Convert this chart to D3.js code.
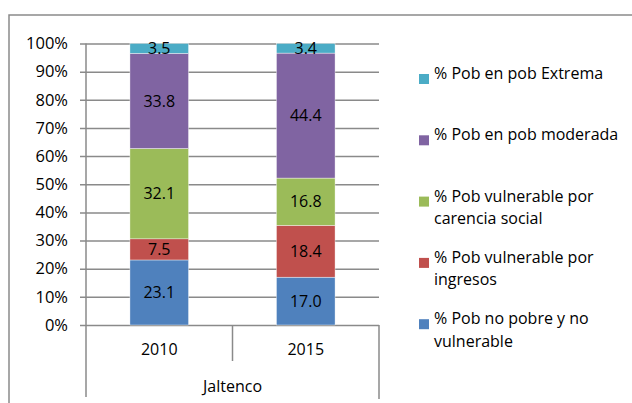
<!DOCTYPE html>
<html>
<head>
<meta charset="utf-8">
<script src="https://cdn.jsdelivr.net/npm/d3@7"></script>
<style>
  body { margin: 0; background: #fff; }
  svg { display: block; font-family: "Open Sans", sans-serif; }
</style>
</head>
<body>
<svg id="chart" width="632" height="403"></svg>
<script>
// categories
const years = ['2010', '2015'];
const groupName = 'Jaltenco';

// series, bottom to top of the stack
const seriesNames = [
  '% Pob no pobre y no vulnerable',
  '% Pob vulnerable por ingresos',
  '% Pob vulnerable por carencia social',
  '% Pob en pob moderada',
  '% Pob en pob Extrema'
];
const noPobre = [23.1, 17.0];
const vulIngresos = [7.5, 18.4];
const vulCarencia = [32.1, 16.8];
const pobModerada = [33.8, 44.4];
const pobExtrema = [3.5, 3.4];

const yTicks = [0, 10, 20, 30, 40, 50, 60, 70, 80, 90, 100];
const colors = ['#4f81bd', '#c0504d', '#9bbb59', '#8064a2', '#4bacc6'];

const seriesValues = [noPobre, vulIngresos, vulCarencia, pobModerada, pobExtrema];

var svg = d3.select('#chart');
var margin = {left: 86, right: 253, top: 43.5, bottom: 78};
var width = 632 - margin.left - margin.right,
    height = 403 - margin.top - margin.bottom;
var fontSize = '16px';

// outer chart border (cut off at right and bottom)
svg.append('path')
  .attr('d', 'M9,403 V15 H632')
  .attr('fill', 'none')
  .attr('stroke', '#8a8a8a')
  .attr('stroke-width', 1.5);

var g = svg.append('g').attr('transform', 'translate(' + margin.left + ',' + margin.top + ')');

var x = d3.scaleBand().domain(years).range([0, width]).paddingInner(0.6).paddingOuter(0.3);
var y = d3.scaleLinear().domain([0, 100]).range([height, 0]);

// gridlines + y ticks
var yAxis = d3.axisLeft(y)
  .tickValues(yTicks)
  .tickSize(-width)
  .tickPadding(18)
  .tickFormat(function(d) { return d + '%'; });

var ya = g.append('g').attr('class', 'y-axis').call(yAxis);
ya.select('.domain').remove();
ya.selectAll('.tick line')
  .attr('x1', -6)
  .attr('stroke', '#8a8a8a')
  .attr('stroke-width', 1.5);
ya.selectAll('.tick text')
  .attr('fill', '#000')
  .style('font-size', '16.5px')
  .style('font-family', '"Open Sans", sans-serif');

// stacked data
var table = years.map(function(yr, i) {
  var row = {year: yr};
  seriesNames.forEach(function(s, j) { row[s] = seriesValues[j][i]; });
  return row;
});
var stack = d3.stack().keys(seriesNames)(table);

var layers = g.selectAll('.layer')
  .data(stack)
  .enter().append('g')
  .attr('class', 'layer')
  .attr('fill', function(d, i) { return colors[i]; });

layers.selectAll('rect')
  .data(function(d) { return d; })
  .enter().append('rect')
  .attr('x', function(d) { return x(d.data.year); })
  .attr('y', function(d) { return y(d[1]); })
  .attr('width', x.bandwidth())
  .attr('height', function(d) { return y(d[0]) - y(d[1]); })
  .attr('stroke', '#fff')
  .attr('stroke-width', 0.4);

// data labels
layers.selectAll('text')
  .data(function(d) { return d; })
  .enter().append('text')
  .attr('x', function(d) { return x(d.data.year) + x.bandwidth() / 2; })
  .attr('y', function(d) { return (y(d[0]) + y(d[1])) / 2; })
  .attr('dy', '0.35em')
  .attr('text-anchor', 'middle')
  .attr('fill', '#000')
  .style('font-size', fontSize)
  .text(function(d) { return (d[1] - d[0]).toFixed(1); });

// left value axis line
g.append('line')
  .attr('x1', 0).attr('x2', 0)
  .attr('y1', 0).attr('y2', height)
  .attr('stroke', '#8a8a8a')
  .attr('stroke-width', 1.5);

// category axis (two levels)
var cat = g.append('g').attr('transform', 'translate(0,' + height + ')');
var step = width / years.length;
var catLine = function(xp, len) {
  cat.append('line')
    .attr('x1', xp).attr('x2', xp)
    .attr('y1', 0).attr('y2', len)
    .attr('stroke', '#8a8a8a')
    .attr('stroke-width', 1.5);
};
catLine(0, 72);
catLine(step, 36);
catLine(width, 74);

cat.selectAll('.year')
  .data(years)
  .enter().append('text')
  .attr('class', 'year')
  .attr('x', function(d) { return x(d) + x.bandwidth() / 2; })
  .attr('y', 24)
  .attr('dy', '0.35em')
  .attr('text-anchor', 'middle')
  .style('font-size', fontSize)
  .text(function(d) { return d; });

cat.append('text')
  .attr('x', width / 2)
  .attr('y', 61)
  .attr('dy', '0.35em')
  .attr('text-anchor', 'middle')
  .style('font-size', fontSize)
  .text(groupName);

// legend, top series first
function wrap(text, maxWidth) {
  text.each(function() {
    var text = d3.select(this),
        words = text.text().split(/\s+/).reverse(),
        word,
        line = [],
        lineHeight = 22.5,
        xPos = text.attr('x'),
        tspan = text.text(null).append('tspan').attr('x', xPos).attr('dy', 0);
    while (word = words.pop()) {
      line.push(word);
      tspan.text(line.join(' '));
      if (tspan.node().getComputedTextLength() > maxWidth) {
        line.pop();
        tspan.text(line.join(' '));
        line = [word];
        tspan = text.append('tspan').attr('x', xPos).attr('dy', lineHeight).text(word);
      }
    }
  });
}

var legendOrder = d3.range(seriesNames.length).reverse();
var legend = svg.append('g').attr('class', 'legend');
var items = legend.selectAll('.item')
  .data(legendOrder)
  .enter().append('g')
  .attr('class', 'item')
  .attr('transform', function(d, i) { return 'translate(419,' + (79 + i * 61.3) + ')'; });

items.append('rect')
  .attr('x', 0).attr('y', -5)
  .attr('width', 10).attr('height', 10)
  .attr('fill', function(d) { return colors[d]; });

items.append('text')
  .attr('x', 15)
  .attr('y', 0)
  .attr('dy', '0.35em')
  .style('font-size', fontSize)
  .text(function(d) { return seriesNames[d]; })
  .call(wrap, 196);
</script>
</body>
</html>
